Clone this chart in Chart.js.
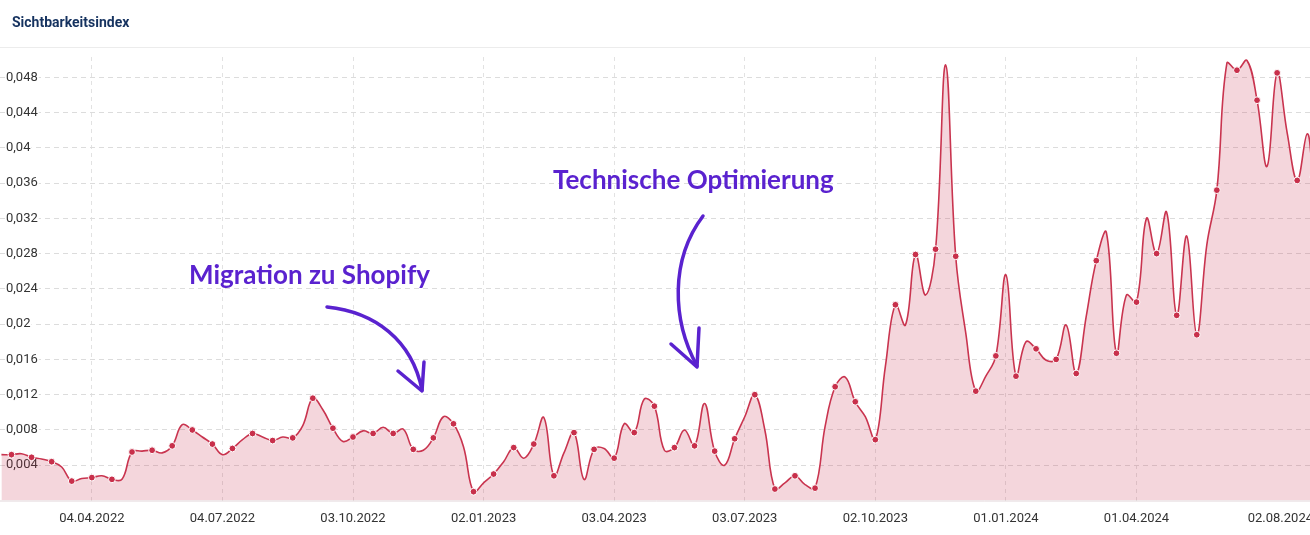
<!DOCTYPE html>
<html>
<head>
<meta charset="utf-8">
<script src="https://cdn.jsdelivr.net/npm/chart.js@4/dist/chart.umd.min.js"></script>
<style>
    html, body { margin: 0; padding: 0; background: #fff; overflow: hidden; width: 1310px; height: 535px; }
    #title { position: absolute; left: 12px; top: 14px; font: bold 14px Roboto, sans-serif; color: #15325f; }
    #sep { position: absolute; left: 0; top: 47px; width: 1310px; height: 1px; background: #ececec; }
    #wrap { position: absolute; left: 0; top: 0; }
</style>
</head>
<body>
<div id="wrap"><canvas id="chart" width="1313" height="535"></canvas></div>
<div id="title">Sichtbarkeitsindex</div>
<div id="sep"></div>
<script>

// weekly values from 31.01.2022, last one is 02.08.2024
let startDate = '2022-01-31';
let lastDate = '2024-08-02';

let values = [
    0.0052, 0.0052, 0.0053, 0.0049, 0.0047, 0.0044, 0.0038, 0.0022, 0.0025, 0.0026,
    0.0028, 0.0024, 0.0024, 0.0055, 0.0056, 0.0057, 0.0054, 0.0062, 0.0086, 0.0080,
    0.0072, 0.0064, 0.0052, 0.0059, 0.0069, 0.0076, 0.0072, 0.0068, 0.0072, 0.0071,
    0.0085, 0.0116, 0.0103, 0.0082, 0.0067, 0.0072, 0.0079, 0.0076, 0.0083, 0.0076,
    0.0081, 0.0058, 0.0057, 0.0071, 0.0095, 0.0087, 0.0061, 0.0010, 0.0020, 0.0030,
    0.0044, 0.0060, 0.0048, 0.0064, 0.0094, 0.0028, 0.0054, 0.0077, 0.0024, 0.0058,
    0.0059, 0.0048, 0.0087, 0.0077, 0.0115, 0.0107, 0.0057, 0.0060, 0.0080, 0.0062,
    0.0110, 0.0056, 0.0040, 0.0070, 0.0095, 0.0120, 0.0080, 0.0013, 0.0020, 0.0028,
    0.0018, 0.0014, 0.0084, 0.0129, 0.0140, 0.0112, 0.0095, 0.0069, 0.0152, 0.0222,
    0.0199, 0.0279, 0.0233, 0.0285, 0.0494, 0.0277, 0.0190, 0.0124, 0.0141, 0.0164,
    0.0256, 0.0141, 0.0180, 0.0172, 0.0159, 0.0160, 0.0199, 0.0144, 0.0209, 0.0272,
    0.0304, 0.0167, 0.0233, 0.0225, 0.0320, 0.0280, 0.0327, 0.0210, 0.0300, 0.0188,
    0.0290, 0.0352, 0.0496, 0.0488, 0.0499, 0.0454, 0.0379, 0.0485, 0.0417, 0.0363,
    0.0416, 0.0367
];

let tickDates = ['2022-04-04', '2022-07-04', '2022-10-03', '2023-01-02', '2023-04-03',
    '2023-07-03', '2023-10-02', '2024-01-01', '2024-04-01', '2024-08-02'];

let yTicks = [0.004, 0.008, 0.012, 0.016, 0.02, 0.024, 0.028, 0.032, 0.036, 0.04, 0.044, 0.048];

const DAY = 864e5;
function dayOf(s) {
    return (Date.parse(s) - Date.parse(startDate)) / DAY;
}
function fmtDay(d) {
    let dt = new Date(Date.parse(startDate) + d * DAY);
    let dd = String(dt.getUTCDate()).padStart(2, '0');
    let mm = String(dt.getUTCMonth() + 1).padStart(2, '0');
    return dd + '.' + mm + '.' + dt.getUTCFullYear();
}

// x positions: one per week, the last point is the last date
let points = [];
for (let i = 0; i < values.length; i++) {
    let x = (i === values.length - 1) ? dayOf(lastDate) : i * 7;
    points.push({ x: x, y: values[i] });
}

const lineColor = '#c9344f';
const purple = '#5a22cf';

// labels, arrows and baseline
const extras = {
    id: 'extras',
    afterDraw(chart) {
        const ctx = chart.ctx;
        const area = chart.chartArea;
        ctx.save();
        ctx.strokeStyle = '#e2d6d9';
        ctx.lineWidth = 1;
        ctx.beginPath();
        ctx.moveTo(0, area.bottom + 0.5);
        ctx.lineTo(area.right, area.bottom + 0.5);
        ctx.stroke();

        ctx.fillStyle = purple;
        ctx.font = 'bold 26px Lato, sans-serif';
        ctx.textBaseline = 'alphabetic';
        ctx.fillText('Migration zu Shopify', 189, 284);
        ctx.fillText('Technische Optimierung', 553, 189);

        ctx.strokeStyle = purple;
        ctx.lineWidth = 3.5;
        ctx.lineCap = 'round';
        ctx.lineJoin = 'round';
        // arrow 1
        ctx.beginPath();
        ctx.moveTo(327, 307);
        ctx.bezierCurveTo(375, 312, 412, 340, 422, 390);
        ctx.stroke();
        ctx.beginPath();
        ctx.moveTo(398, 371);
        ctx.lineTo(422, 391);
        ctx.lineTo(424, 362);
        ctx.stroke();
        // arrow 2
        ctx.beginPath();
        ctx.moveTo(703, 216);
        ctx.bezierCurveTo(670, 260, 672, 320, 697, 366);
        ctx.stroke();
        ctx.beginPath();
        ctx.moveTo(671, 344);
        ctx.lineTo(697, 367);
        ctx.lineTo(699, 328);
        ctx.stroke();
        ctx.restore();
    }
};

const ctx = document.getElementById('chart').getContext('2d');
const lastIdx = values.length - 1;

const myChart = new Chart(ctx, {
    type: 'line',
    data: {
        datasets: [{
            label: 'Sichtbarkeitsindex',
            data: points,
            borderColor: lineColor,
            borderWidth: 1.6,
            backgroundColor: 'rgba(201, 52, 79, 0.2)',
            fill: 'origin',
            tension: 0.4,
            pointRadius: c => (c.dataIndex % 2 === 1 || c.dataIndex === lastIdx) ? 3.4 : 0,
            pointBackgroundColor: '#c8304b',
            pointBorderColor: '#ffffff',
            pointBorderWidth: 1
        }]
    },
    options: {
        responsive: false,
        animation: false,
        layout: { autoPadding: false, padding: { top: 57, bottom: 0, left: 0, right: 0 } },
        plugins: {
            legend: { display: false },
            tooltip: { enabled: false }
        },
        scales: {
            x: {
                type: 'linear',
                min: -1,
                max: dayOf(lastDate),
                afterBuildTicks: scale => {
                    scale.ticks = [{ value: -1 }].concat(tickDates.map(d => ({ value: dayOf(d) })));
                },
                afterFit: scale => {
                    scale.height = 34.5;
                    scale.paddingLeft = 0;
                    scale.paddingRight = 0;
                },
                ticks: {
                    autoSkip: false,
                    maxRotation: 0,
                    align: 'inner',
                    padding: 10,
                    color: '#333',
                    font: { family: 'Roboto', size: 13 },
                    callback: (v, i) => i === 0 ? '' : fmtDay(v)
                },
                grid: {
                    drawTicks: false,
                    color: c => (c.index === 0 || c.index === tickDates.length) ? 'rgba(0,0,0,0)' : '#e2e2e2'
                },
                border: { display: false, dash: [4, 4] }
            },
            y: {
                min: 0,
                max: 0.0503,
                afterBuildTicks: scale => {
                    scale.ticks = yTicks.map(v => ({ value: v }));
                },
                afterFit: scale => {
                    scale.width = 0;
                },
                ticks: {
                    mirror: true,
                    padding: 6,
                    color: '#333',
                    font: { family: 'Roboto', size: 13 },
                    showLabelBackdrop: true,
                    backdropColor: '#ffffff',
                    backdropPadding: 1,
                    callback: v => String(+v.toFixed(3)).replace('.', ',')
                },
                grid: {
                    drawTicks: false,
                    color: '#dcdcdc'
                },
                border: { display: false, dash: [5, 4] }
            }
        }
    },
    plugins: [extras]
});

</script>
</body>
</html>
